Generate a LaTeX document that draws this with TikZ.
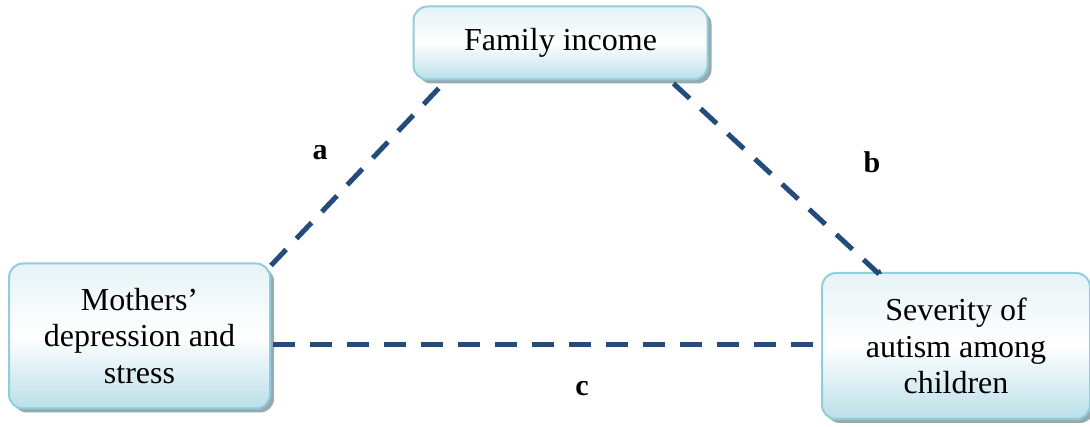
\documentclass[tikz,border=0pt]{standalone}
\usepackage{fontspec}
\setmainfont{Liberation Serif}
\usetikzlibrary{shadows,arrows.meta,calc}
\definecolor{boxborder}{HTML}{92CDDC}
\definecolor{boxtop}{HTML}{E6F3F6}
\definecolor{boxbot}{HTML}{BADFE8}
\definecolor{linkblue}{HTML}{234B7C}
\definecolor{shadowgray}{HTML}{8FA6AB}
\tikzset{
  varbox/.style={draw=boxborder, line width=2pt, rounded corners=14pt,
    top color=boxtop, bottom color=boxbot, middle color=white,
    align=center, inner sep=0pt,
    font=\fontsize{32}{36.5}\selectfont,
    drop shadow={shadow xshift=4pt, shadow yshift=-4pt, fill=shadowgray, opacity=0.95}},
  link/.style={draw=linkblue, line width=5pt, dash pattern=on 22pt off 15pt},
  lab/.style={font=\fontsize{30}{30}\selectfont\bfseries, inner sep=0pt}
}
\begin{document}
\begin{tikzpicture}[x=1pt,y=1pt]
\useasboundingbox (0,0) rectangle (1090,-427);
\node[varbox, minimum width=294pt, minimum height=73pt] (fam) at (560.5,-43) {Family income};
\node[varbox, minimum width=261pt, minimum height=145pt] (mot) at (139.5,-336) {Mothers’\\depression and\\stress};
\node[varbox, minimum width=268pt, minimum height=146pt] (sev) at (956,-346) {Severity of\\autism among\\children};
\coordinate (aend) at ($(fam.south west)+(27,-7)$);
\coordinate (bstart) at ($(fam.south east)+(-35,-3)$);
\coordinate (bend) at ($(sev.north west)+(58,-2)$);
\draw[link] (mot.north east) ++(0,-3) coordinate (astart) -- (aend);
\draw[link] (bstart) -- (bend);
\fill[linkblue] ($(bend)+(-5,0)$) -- ($(bend)+(1,5)$) -- ($(bend)+(3,0)$) -- cycle;
\draw[link] (mot.east) ++(2,-9) coordinate (cstart) -- (cstart -| sev.west);
\node[lab] (la) at (320,-153) {a};
\node[lab] (lb) at (872,-162) {b};
\node[lab] (lc) at (582,-389) {c};
\end{tikzpicture}
\end{document}
